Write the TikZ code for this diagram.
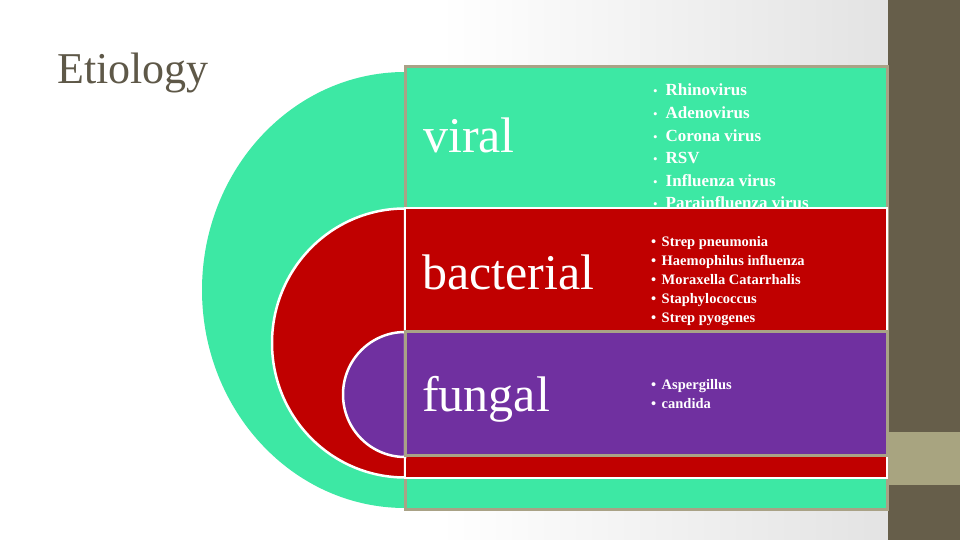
\documentclass[tikz,border=0pt]{standalone}
\usepackage{fontspec}
\setmainfont{Liberation Serif}
\definecolor{vgreen}{HTML}{3DE8A4}
\definecolor{bred}{HTML}{C00000}
\definecolor{fpurple}{HTML}{7030A0}
\definecolor{tanline}{HTML}{A9A286}
\definecolor{darkbar}{HTML}{665E4A}
\definecolor{tanblock}{HTML}{A8A480}
\definecolor{titlecol}{HTML}{5E5848}
\begin{document}
\begin{tikzpicture}[x=1pt,y=1pt,
  cat/.style={anchor=base west, inner sep=0pt, text=white, font=\fontsize{50}{50}\selectfont},
  vitem/.style={anchor=base west, inner sep=0pt, text=white, font=\bfseries\fontsize{17}{17}\selectfont},
  sitem/.style={anchor=base west, inner sep=0pt, text=white, font=\bfseries\fontsize{14.5}{14.5}\selectfont},
  tanedge/.style={draw=tanline, line width=3pt},
  whiteedge/.style={draw=white, line width=2.5pt}]
\useasboundingbox (0,0) rectangle (960,540);
% background
\fill[white] (0,0) rectangle (960,540);
\shade[left color=white, right color=black!11] (440,0) rectangle (888,540);
\fill[darkbar] (888,0) rectangle (960,540);
\fill[tanblock] (888,55) rectangle (960,108);
% title
\node[anchor=base west, inner sep=0pt, text=titlecol, font=\fontsize{44}{44}\selectfont] (title) at (57,456) {Etiology};
% viral layer
\fill[vgreen] (405,468) arc[start angle=90, end angle=270, x radius=203, y radius=218] -- cycle;
\filldraw[fill=vgreen, tanedge] (405,473) rectangle (887,30);
\node[cat] (viral) at (423,387) {viral};
\foreach \t [count=\i] in {Rhinovirus, Adenovirus, Corona virus, RSV, Influenza virus, Parainfluenza virus}
  \node[vitem] (v\i) at (653,{444-22.6*(\i-1)}) {\makebox[12.5pt][l]{\normalfont\fontsize{13}{13}\selectfont •}\t};
% bacterial layer
\filldraw[fill=bred, whiteedge] (405,331.5) arc[start angle=90, end angle=270, x radius=133, y radius=134.5] -- cycle;
\filldraw[fill=bred, whiteedge] (405,332) rectangle (887,62);
\node[cat] (bacterial) at (422,250) {bacterial};
\foreach \t [count=\i] in {Strep pneumonia, Haemophilus influenza, Moraxella Catarrhalis, Staphylococcus, Strep pyogenes}
  \node[sitem] (b\i) at (651,{293-19*(\i-1)}) {\makebox[10.5pt][l]{•}\t};
% fungal layer
\filldraw[fill=fpurple, whiteedge] (405,208) arc[start angle=90, end angle=270, x radius=62, y radius=62.5] -- cycle;
\filldraw[fill=fpurple, tanedge] (405,208) rectangle (887,84);
\node[cat] (fungal) at (422,128) {fungal};
\node[sitem] (f1) at (651,150) {\makebox[10.5pt][l]{•}Aspergillus};
\node[sitem] (f2) at (651,131) {\makebox[10.5pt][l]{•}candida};
\end{tikzpicture}
\end{document}
